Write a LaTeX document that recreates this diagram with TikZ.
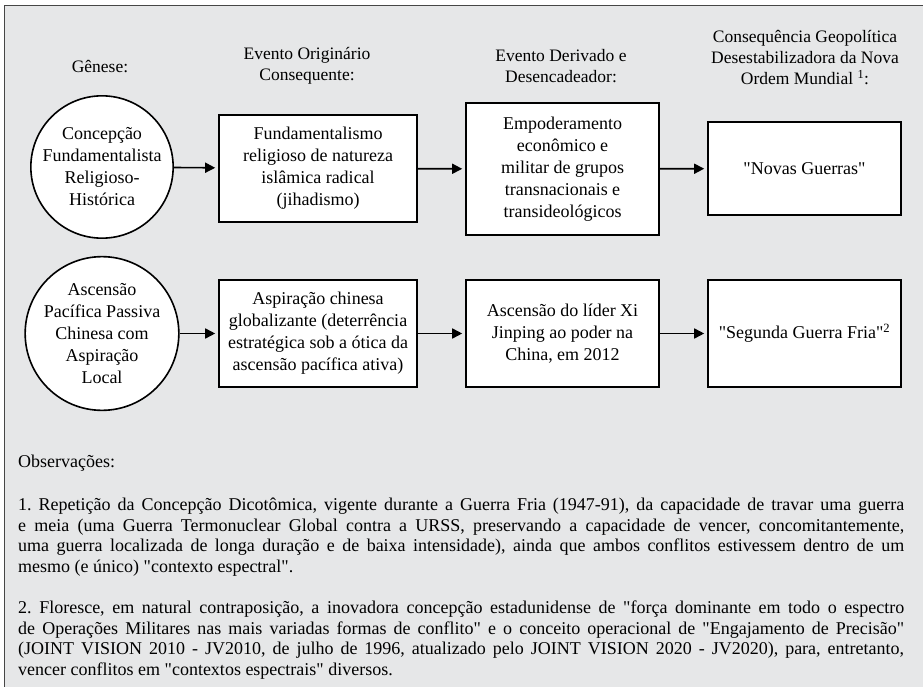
\documentclass[tikz,border=0pt]{standalone}
\usepackage{fontspec}
\setmainfont{Liberation Serif}
\usetikzlibrary{positioning,arrows.meta}
\definecolor{panel}{RGB}{230,231,232}
\definecolor{frameline}{RGB}{70,70,70}
\newcommand{\qt}{\textquotedbl}
\tikzset{
  genesis/.style={draw,line width=1.6pt,fill=white,circle,minimum size=142pt,inner sep=0pt,align=center,font=\fontsize{18}{22}\selectfont},
  event/.style={draw,line width=1.6pt,fill=white,minimum width=193pt,inner sep=0pt,align=center,font=\fontsize{18}{22}\selectfont},
  heading/.style={align=center,font=\fontsize{17.5}{21}\selectfont},
  note/.style={anchor=north west,inner sep=0pt,text width=886pt,align=justify,font=\fontsize{18}{20.5}\selectfont\frenchspacing},
  link/.style={-{Triangle[length=10pt,width=10pt]},line width=1.6pt,shorten >=3pt}
}
\begin{document}
\begin{tikzpicture}[x=1pt,y=-1pt]
\useasboundingbox (0,0) rectangle (923,687);
\fill[panel] (4.5,6) rectangle (923,687);
\draw[frameline,line width=1pt] (4.5,687) -- (4.5,6) -- (923,6);
% headings
\node[heading] (hgen) at (100,67) {Gênese:};
\node[heading] (horig) at (307,66) {Evento Originário\\Consequente:};
\node[heading] (hderiv) at (561,66) {Evento Derivado e\\Desencadeador:};
\node[heading] (hcons) at (805,58) {Consequência Geopolítica\\Desestabilizadora da Nova\\Ordem Mundial \textsuperscript{1}:};
% first row
\node[genesis] (gen1) at (102,167) {Concepção\\Fundamentalista\\Religioso-\\Histórica};
\node[event,minimum width=198pt,minimum height=107pt] (orig1) at (318,168.5) {Fundamentalismo\\religioso de natureza\\islâmica radical\\(jihadismo)};
\node[event,minimum height=132pt] (deriv1) at (562.5,169) {Empoderamento\\econômico e\\militar de grupos\\transnacionais e\\transideológicos};
\node[event,minimum height=93pt] (cons1) at (804.5,168.5) {\qt Novas Guerras\qt};
% second row
\node[genesis] (gen2) at (102,333.5) {Ascensão\\Pacífica Passiva\\Chinesa com\\Aspiração\\Local};
\node[event,minimum width=198pt,minimum height=107pt] (orig2) at (318,333.5) {Aspiração chinesa\\globalizante (deterrência\\estratégica sob a ótica da\\ascensão pacífica ativa)};
\node[event,minimum height=107pt] (deriv2) at (562.5,333.5) {Ascensão do líder Xi\\Jinping ao poder na\\China, em 2012};
\node[event,minimum height=107pt] (cons2) at (804.5,333.5) {\qt Segunda Guerra Fria\qt\textsuperscript{2}};
\foreach \a/\b in {gen1/orig1,orig1/deriv1,deriv1/cons1,gen2/orig2,orig2/deriv2,deriv2/cons2}
  \draw[link] (\a) -- (\b);
% notes
\node[note] (obs) at (18,455) {Observações:};
\node[note] (note1) at (18,498) {1. Repetição da Concepção Dicotômica, vigente durante a Guerra Fria (1947-91), da capacidade de travar uma guerra\linebreak
e meia (uma Guerra Termonuclear Global contra a URSS, preservando a capacidade de vencer, concomitantemente,\linebreak
uma guerra localizada de longa duração e de baixa intensidade), ainda que ambos conflitos estivessem dentro de um\linebreak
mesmo (e único) \qt contexto espectral\qt.};
\node[note] (note2) at (18,601) {2. Floresce, em natural contraposição, a inovadora concepção estadunidense de \qt força dominante em todo o espectro\linebreak
de Operações Militares nas mais variadas formas de conflito\qt{} e o conceito operacional de \qt Engajamento de Precisão\qt\linebreak
(JOINT VISION 2010 - JV2010, de julho de 1996, atualizado pelo JOINT VISION 2020 - JV2020), para, entretanto,\linebreak
vencer conflitos em \qt contextos espectrais\qt{} diversos.};
\end{tikzpicture}
\end{document}
